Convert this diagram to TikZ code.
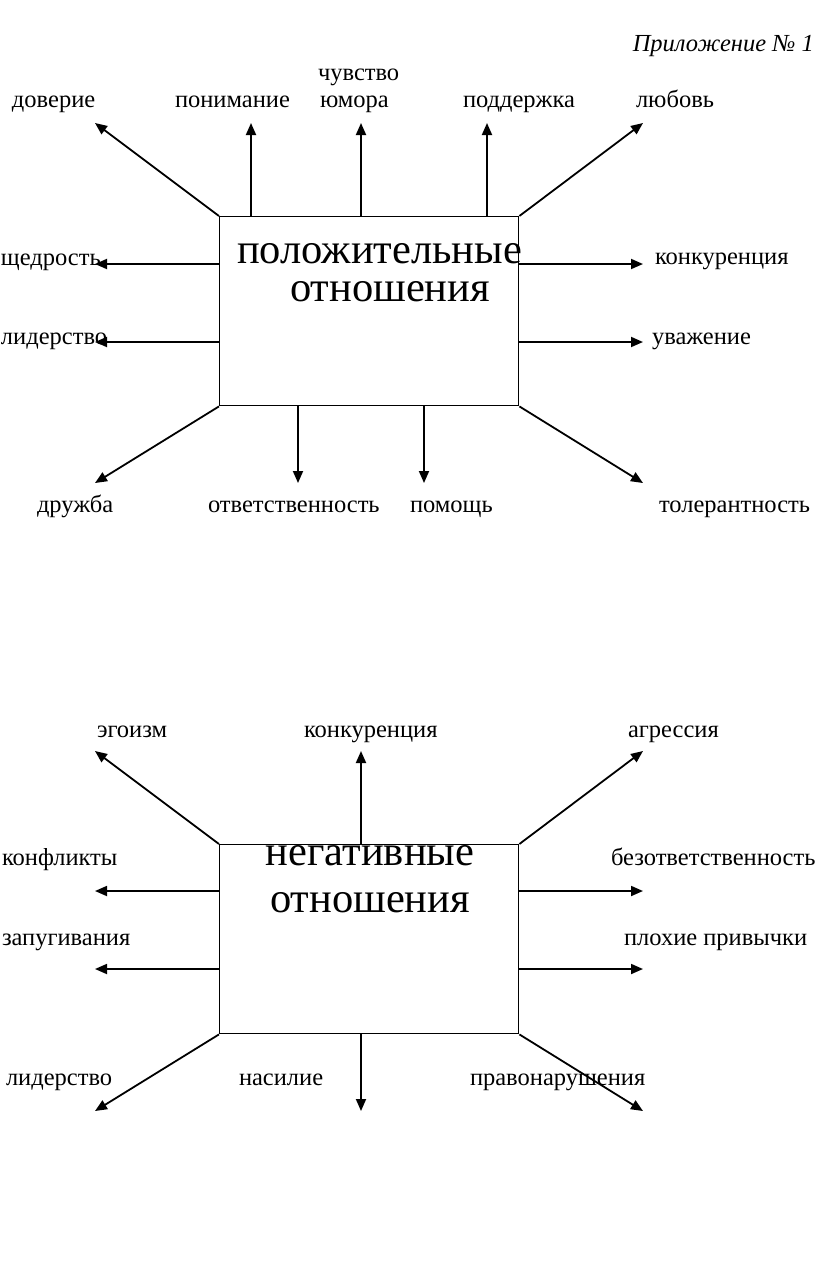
\documentclass[tikz,border=0pt]{standalone}
\usepackage{fontspec}
\setmainfont{Liberation Serif}
\usetikzlibrary{arrows.meta}
\begin{document}
\begin{tikzpicture}[x=1pt,y=-1pt,
  lbl/.style={inner sep=0pt,outer sep=0pt,anchor=base west,font=\fontsize{24.5}{29}\selectfont},
  big/.style={inner sep=0pt,outer sep=0pt,anchor=base,text height=20pt,text depth=0pt,font=\fontsize{42.5}{50}\selectfont},
  boxst/.style={draw,line width=1.4pt,minimum width=299pt,minimum height=189pt,inner sep=0pt,anchor=north west},
  arr/.style={line width=1.8pt,-{Triangle[length=12pt,width=10pt]}}]
\useasboundingbox (0,0) rectangle (816,1262);
% ---------- header
\node[inner sep=0pt,anchor=base east,font=\fontsize{24.5}{29}\selectfont\itshape] (hdr) at (814,51) {Приложение № 1};
% ---------- positive
\node[boxst] (pb) at (219,216) {};
\node[big,anchor=base west] (pt1) at (237,263) {положительные};
\node[big] (pt2) at (390,301) {отношения};
\coordinate (p1) at (95,123);
\coordinate (p2) at (251,123);
\coordinate (p3) at (361,123);
\coordinate (p4) at (487,123);
\coordinate (p5) at (643,123);
\coordinate (p6) at (95,264);
\coordinate (p7) at (95,342);
\coordinate (p8) at (643,264);
\coordinate (p9) at (643,342);
\coordinate (p10) at (95,483);
\coordinate (p11) at (298,483);
\coordinate (p12) at (424,483);
\coordinate (p13) at (643,483);
\draw[arr] (pb.north west) -- (p1);
\draw[arr] (pb.north west -| p2) -- (p2);
\draw[arr] (pb.north west -| p3) -- (p3);
\draw[arr] (pb.north west -| p4) -- (p4);
\draw[arr] (pb.north east) -- (p5);
\draw[arr] (pb.north west |- p6) -- (p6);
\draw[arr] (pb.north west |- p7) -- (p7);
\draw[arr] (pb.north east |- p8) -- (p8);
\draw[arr] (pb.north east |- p9) -- (p9);
\draw[arr] (pb.south west) -- (p10);
\draw[arr] (pb.south west -| p11) -- (p11);
\draw[arr] (pb.south west -| p12) -- (p12);
\draw[arr] (pb.south east) -- (p13);
\node[lbl] (l1) at (12,107) {доверие};
\node[lbl] (l2) at (175,107) {понимание};
\node[lbl] (l3a) at (318,80) {чувство};
\node[lbl] (l3b) at (320,107) {юмора};
\node[lbl] (l4) at (463,107) {поддержка};
\node[lbl] (l5) at (636,107) {любовь};
\node[lbl] (l6) at (1,265) {щедрость};
\node[lbl] (l7) at (1,344) {лидерство};
\node[lbl] (l8) at (655,264) {конкуренция};
\node[lbl] (l9) at (652,344) {уважение};
\node[lbl] (l10) at (37,512) {дружба};
\node[lbl] (l11) at (208,512) {ответственность};
\node[lbl] (l12) at (410,512) {помощь};
\node[lbl] (l13) at (659,512) {толерантность};
% ---------- negative
\node[boxst] (nb) at (219,844) {};
\node[big] (nt1) at (370,865) {негативные};
\node[big] (nt2) at (370,912) {отношения};
\coordinate (n1) at (95,751);
\coordinate (n2) at (361,751);
\coordinate (n3) at (643,751);
\coordinate (n4) at (95,891);
\coordinate (n5) at (95,969);
\coordinate (n6) at (643,891);
\coordinate (n7) at (643,969);
\coordinate (n8) at (95,1111);
\coordinate (n9) at (361,1111);
\coordinate (n10) at (643,1111);
\draw[arr] (nb.north west) -- (n1);
\draw[arr] (nb.north west -| n2) -- (n2);
\draw[arr] (nb.north east) -- (n3);
\draw[arr] (nb.north west |- n4) -- (n4);
\draw[arr] (nb.north west |- n5) -- (n5);
\draw[arr] (nb.north east |- n6) -- (n6);
\draw[arr] (nb.north east |- n7) -- (n7);
\draw[arr] (nb.south west) -- (n8);
\draw[arr] (nb.south west -| n9) -- (n9);
\draw[arr] (nb.south east) -- (n10);
\node[lbl] (m1) at (97,737) {эгоизм};
\node[lbl] (m2) at (304,737) {конкуренция};
\node[lbl] (m3) at (628,737) {агрессия};
\node[lbl] (m4) at (2,865) {конфликты};
\node[lbl] (m5) at (2,945) {запугивания};
\node[lbl] (m6) at (611,865) {безответственность};
\node[lbl] (m7) at (624,945) {плохие привычки};
\node[lbl] (m8) at (6,1085) {лидерство};
\node[lbl] (m9) at (239,1085) {насилие};
\node[lbl] (m10) at (470,1085) {правонарушения};
\end{tikzpicture}
\end{document}
